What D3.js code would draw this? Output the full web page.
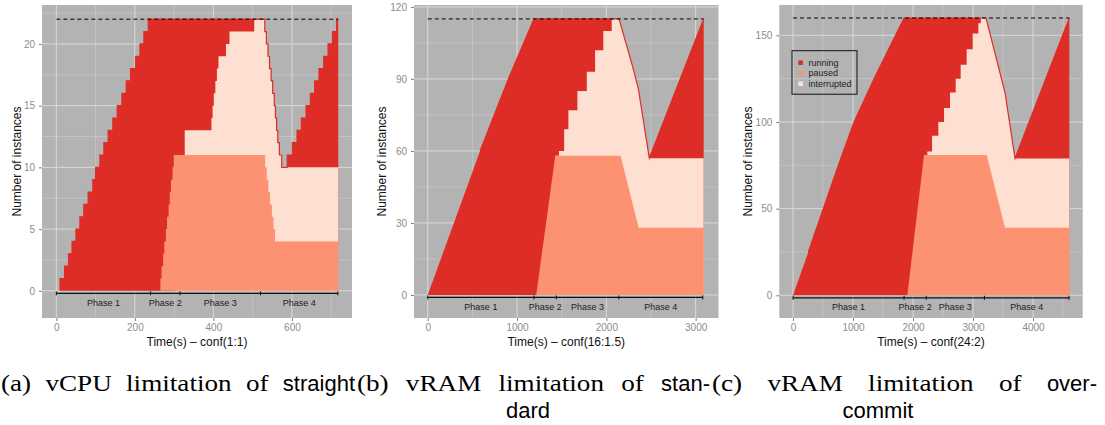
<!DOCTYPE html>
<html>
<head>
<meta charset="utf-8">
<script src="https://cdn.jsdelivr.net/npm/d3@7"></script>
<style>
  body { margin: 0; background: #fff; }
  text { font-family: "Liberation Sans", Arial, sans-serif; }
</style>
</head>
<body>
<svg id="chart" width="1105" height="425"></svg>
<script>
// ---- data ----
var seriesNames = ["running", "paused", "interrupted"];
var phaseNames = ["Phase 1", "Phase 2", "Phase 3", "Phase 4"];

// panel (a) vCPU, conf(1:1) - step data
var aCap = 22;
var aPhases = [0, 240, 315, 520, 717];
var aTotal = [[0,0],[8,1],[21,2],[31,3],[40,4],[50,5],[60,6],[70,7],[81,8],[93,9],[100,10],[111,11],
  [121,12],[132,13],[144,14],[155,15],[167,16],[178,17],[189,18],[202,19],[213,20],[223,21],[234,22],
  [528,22],[531,21],[535,20],[539,19],[543,18],[547,17],[551,16],[555,15],[558,14],[561,13],[564,12],
  [568,11],[574,10],[588,11],[601,12],[613,13],[624,14],[636,15],[647,16],[658,17],[669,18],[681,19],
  [692,20],[703,21],[714,22],[718,22]];
// paused + interrupted
var aHeld = [[302,11],[327,13],[395,14],[398,15],[401,16],[405,17],[409,18],[413,19],[432,20],[441,21],
  [504,22],[528,22],[531,21],[535,20],[539,19],[543,18],[547,17],[551,16],[555,15],[558,14],[561,13],
  [564,12],[568,11],[574,10],[718,10]];
var aPaused = [[0,0],[265,1],[268,2],[272,3],[275,4],[279,5],[282,6],[286,7],[289,8],[292,9],[296,10],
  [299,11],[529,11],[532,10],[536,9],[540,8],[544,7],[549,6],[553,5],[557,4],[718,4]];

// panel (b) vRAM, conf(16:1.5)
var bCap = 115;
var bPhases = [0, 1190, 1440, 2140, 3080];
var bTotal = [[0,0],[586,60],[903,90],[1190,115],[2142,115],[2303,94],[2358,86],[2481,57],[3090,115]];
var bHeld = [[1428,58],[1470,58],[1470,60],[1527,60],[1527,69],[1575,69],[1575,77],[1676,77],[1676,85],
  [1781,85],[1781,93],[1874,93],[1874,102],[1966,102],[1966,110],[2060,110],[2060,115],[2142,115],
  [2303,94],[2358,86],[2481,57],[3090,57]];
var bPaused = [[0,0],[1215,0],[1428,58],[2160,58],[2362,28],[3090,28]];

// panel (c) vRAM, conf(24:2)
var cCap = 160;
var cPhases = [0, 1850, 2220, 3190, 4600];
var cTotal = [[0,0],[255,25],[505,50],[755,75],[1017,100],[1350,125],[1850,160],[3217,160],[3533,117],
  [3700,79],[4605,160]];
var cHeld = [[2183,81],[2239,81],[2239,83],[2317,83],[2317,92],[2422,92],[2422,100],[2517,100],[2517,108],
  [2617,108],[2617,117],[2711,117],[2711,125],[2794,125],[2794,133],[2894,133],[2894,142],[2994,142],
  [2994,151],[3089,151],[3089,157],[3130,157],[3130,160],[3217,160],[3533,117],[3700,79],[4605,79]];
var cPaused = [[0,0],[1905,0],[2183,81],[3228,81],[3533,39],[4605,39]];

// axes ticks
var aXTicks = [0, 200, 400, 600], aXMinor = [100, 300, 500, 700];
var aYTicks = [0, 5, 10, 15, 20], aYMinor = [2.5, 7.5, 12.5, 17.5, 22.5];
var bXTicks = [0, 1000, 2000, 3000], bXMinor = [500, 1500, 2500];
var bYTicks = [0, 30, 60, 90, 120], bYMinor = [15, 45, 75, 105];
var cXTicks = [0, 1000, 2000, 3000, 4000], cXMinor = [500, 1500, 2500, 3500, 4500];
var cYTicks = [0, 50, 100, 150], cYMinor = [25, 75, 125];

// sub-captions: first lines as [word, font] lists, then wrapped second lines
var captionA = [["(a)", "serif"], ["vCPU", "serif"], ["limitation", "serif"], ["of", "serif"], ["straight", "sans"]];
var captionB = [["(b)", "serif"], ["vRAM", "serif"], ["limitation", "serif"], ["of", "serif"], ["stan-", "sans"]];
var captionC = [["(c)", "serif"], ["vRAM", "serif"], ["limitation", "serif"], ["of", "serif"], ["over-", "sans"]];
var captionB2 = "dard", captionC2 = "commit";

var colors = {running: "#de2d26", paused: "#fc9272", interrupted: "#fee0d2"};

var panels = [
  {left: 42, right: 352, xDom: [-36.5, 753], yDom: [-2.2, 23.15], total: aTotal, held: aHeld, paused: aPaused,
   cap: aCap, phases: aPhases, xt: aXTicks, xm: aXMinor, yt: aYTicks, ym: aYMinor, step: true,
   xTitle: "Time(s) \u2013 conf(1:1)", yTitleX: 17, legend: false},
  {left: 414, right: 718.5, xDom: [-154, 3256], yDom: [-9.6, 120.8], total: bTotal, held: bHeld, paused: bPaused,
   cap: bCap, phases: bPhases, xt: bXTicks, xm: bXMinor, yt: bYTicks, ym: bYMinor, step: false,
   xTitle: "Time(s) \u2013 conf(16:1.5)", yTitleX: 382, legend: false},
  {left: 779.3, right: 1082.7, xDom: [-229, 4828], yDom: [-13.1, 167.5], total: cTotal, held: cHeld, paused: cPaused,
   cap: cCap, phases: cPhases, xt: cXTicks, xm: cXMinor, yt: cYTicks, ym: cYMinor, step: false,
   xTitle: "Time(s) \u2013 conf(24:2)", yTitleX: 748, legend: true}
];

var plotTop = 5, plotBottom = 318;
var svg = d3.select("#chart");

panels.forEach(function(p) {
  var x = d3.scaleLinear().domain(p.xDom).range([p.left, p.right]);
  var y = d3.scaleLinear().domain(p.yDom).range([plotBottom, plotTop]);
  var g = svg.append("g");
  var curve = p.step ? d3.curveStepAfter : d3.curveLinear;

  g.append("rect")
    .attr("x", p.left).attr("y", plotTop)
    .attr("width", p.right - p.left).attr("height", plotBottom - plotTop)
    .attr("fill", "#b3b3b3");

  // grid lines
  g.selectAll(".ym").data(p.ym).enter().append("line")
    .attr("x1", p.left).attr("x2", p.right)
    .attr("y1", d => y(d)).attr("y2", d => y(d))
    .attr("stroke", "#c6c6c6").attr("stroke-width", 0.8);
  g.selectAll(".xm").data(p.xm).enter().append("line")
    .attr("y1", plotTop).attr("y2", plotBottom)
    .attr("x1", d => x(d)).attr("x2", d => x(d))
    .attr("stroke", "#c6c6c6").attr("stroke-width", 0.8);
  g.selectAll(".yt").data(p.yt).enter().append("line")
    .attr("x1", p.left).attr("x2", p.right)
    .attr("y1", d => y(d)).attr("y2", d => y(d))
    .attr("stroke", "#d9d9d9").attr("stroke-width", 1);
  g.selectAll(".xt").data(p.xt).enter().append("line")
    .attr("y1", plotTop).attr("y2", plotBottom)
    .attr("x1", d => x(d)).attr("x2", d => x(d))
    .attr("stroke", "#d9d9d9").attr("stroke-width", 1);

  // stacked areas (painted back to front)
  var area = d3.area().x(d => x(d[0])).y0(y(0)).y1(d => y(d[1])).curve(curve);
  g.append("path").datum(p.total).attr("d", area).attr("fill", colors.running);
  g.append("path").datum(p.held).attr("d", area).attr("fill", colors.interrupted);
  g.append("path").datum(p.paused).attr("d", area).attr("fill", colors.paused);
  var line = d3.line().x(d => x(d[0])).y(d => y(d[1])).curve(curve);
  g.append("path").datum(p.total.filter(d => d[0] > 0)).attr("d", line)
    .attr("fill", "none").attr("stroke", colors.running).attr("stroke-width", 1.2);

  // capacity line
  g.append("line")
    .attr("x1", x(0)).attr("x2", x(p.total[p.total.length - 1][0]))
    .attr("y1", y(p.cap)).attr("y2", y(p.cap))
    .attr("stroke", "#000").attr("stroke-width", 1).attr("stroke-dasharray", "4,3");

  // phase bracket
  var by = y(0) + 2.5;
  g.append("line")
    .attr("x1", x(p.phases[0])).attr("x2", x(p.phases[p.phases.length - 1]))
    .attr("y1", by).attr("y2", by)
    .attr("stroke", "#111").attr("stroke-width", 1.2);
  g.selectAll(".pt").data(p.phases).enter().append("line")
    .attr("x1", d => x(d)).attr("x2", d => x(d))
    .attr("y1", by - 2).attr("y2", by + 2)
    .attr("stroke", "#111").attr("stroke-width", 1);
  g.selectAll(".pl").data(phaseNames).enter().append("text")
    .attr("x", (d, i) => (x(p.phases[i]) + x(p.phases[i + 1])) / 2)
    .attr("y", y(0) + 15)
    .attr("text-anchor", "middle")
    .attr("font-size", 9).attr("fill", "#222")
    .text(d => d);

  // axes
  var xAxis = g.append("g").attr("transform", `translate(0, ${plotBottom})`)
    .call(d3.axisBottom(x).tickValues(p.xt).tickFormat(d3.format("d")).tickSize(3).tickPadding(3));
  var yAxis = g.append("g").attr("transform", `translate(${p.left}, 0)`)
    .call(d3.axisLeft(y).tickValues(p.yt).tickFormat(d3.format("d")).tickSize(3).tickPadding(4));
  [xAxis, yAxis].forEach(function(ax) {
    ax.select(".domain").remove();
    ax.selectAll(".tick line").attr("stroke", "#7f7f7f");
    ax.selectAll(".tick text").attr("fill", "#8c8c8c").attr("font-size", 10)
      .style("font-family", "'Liberation Sans', Arial, sans-serif");
  });

  g.append("text")
    .attr("x", (p.left + p.right) / 2).attr("y", 346)
    .attr("text-anchor", "middle").attr("font-size", 12).attr("fill", "#111")
    .text(p.xTitle);
  g.append("text")
    .attr("transform", `translate(${p.yTitleX + 4}, ${(plotTop + plotBottom) / 2}) rotate(-90)`)
    .attr("text-anchor", "middle").attr("font-size", 12).attr("fill", "#111")
    .text("Number of instances");

  if (p.legend) {
    var lg = g.append("g");
    lg.append("rect").attr("x", 792).attr("y", 50.7).attr("width", 65).attr("height", 43.5)
      .attr("fill", "none").attr("stroke", "#111").attr("stroke-width", 1);
    seriesNames.forEach(function(s, i) {
      var cy = 62.7 + i * 10.5;
      lg.append("rect").attr("x", 798.3).attr("y", cy - 2.3).attr("width", 4.6).attr("height", 4.6)
        .attr("fill", colors[s]);
      lg.append("text").attr("x", 808.5).attr("y", cy + 3.2)
        .attr("font-size", 9).attr("fill", "#222").text(s);
    });
  }
});

// captions: justify each first line between its edges, like LaTeX does
// (serif words widened a little, Computer Modern runs wider than Times)
function captionWord(txt, font, xx, yy, anchor) {
  var t = svg.append("text")
    .attr("x", xx).attr("y", yy)
    .attr("text-anchor", anchor || "start")
    .attr("font-size", font === "serif" ? 23 : 22)
    .style("font-family", font === "serif" ? "'Liberation Serif', serif" : "'Liberation Sans', sans-serif")
    .attr("fill", "#000")
    .text(txt);
  if (font === "serif") {
    t.attr("textLength", t.node().getComputedTextLength() * 1.18).attr("lengthAdjust", "spacingAndGlyphs");
  }
  return t;
}
function justify(words, x0, x1, yy) {
  var nodes = words.map(w => captionWord(w[0], w[1], 0, yy));
  var widths = nodes.map(n => n.node().getComputedTextLength());
  var gap = (x1 - x0 - d3.sum(widths)) / (words.length - 1);
  var cx = x0;
  nodes.forEach(function(n, i) {
    n.attr("x", cx);
    cx += widths[i] + gap;
  });
}
justify(captionA, 1, 355, 391);
justify(captionB, 357, 710, 391);
justify(captionC, 712, 1097, 391);
captionWord(captionB2, "sans", 528, 418, "middle");
captionWord(captionC2, "sans", 878, 418, "middle");
</script>
</body>
</html>
